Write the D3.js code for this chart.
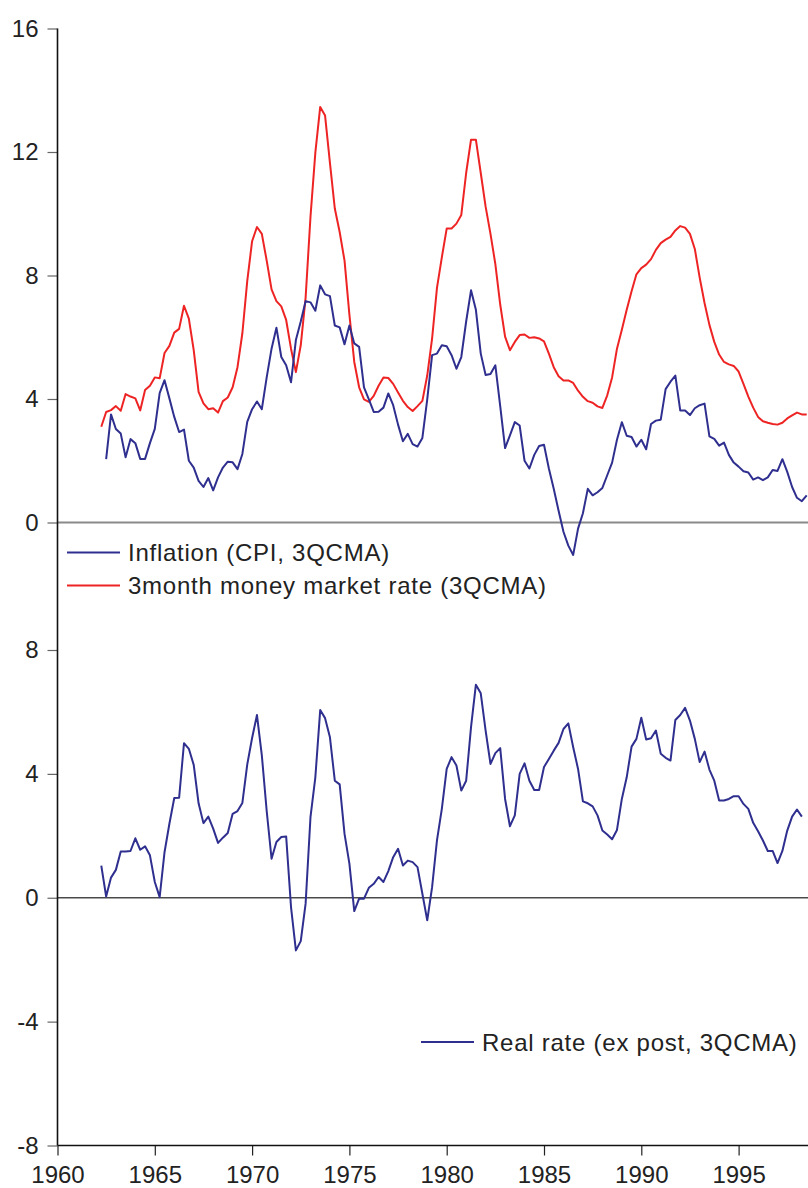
<!DOCTYPE html>
<html>
<head>
<meta charset="utf-8">
<script src="https://cdn.jsdelivr.net/npm/d3@7"></script>
<style>
  html, body { margin: 0; padding: 0; background: #fff; }
  svg { display: block; }
  text { font-family: "Liberation Sans", Arial, Helvetica, sans-serif; fill: #222; }
</style>
</head>
<body>
<svg id="chart" width="808" height="1188"></svg>
<script>
// Quarterly series, first observation dates (decimal years)
const rateStart = 1962.25;
const inflationStart = 1962.5;
const realStart = 1962.25;

// 3-month money market rate, 3-quarter centred moving average (%)
const moneyRate = [
  3.10, 3.58, 3.64, 3.77, 3.62, 4.16, 4.08, 4.02, 3.63, 4.29,
  4.43, 4.70, 4.67, 5.49, 5.72, 6.15, 6.27, 7.02, 6.60, 5.58,
  4.23, 3.86, 3.67, 3.70, 3.56, 3.93, 4.05, 4.38, 5.03, 6.13,
  7.82, 9.11, 9.57, 9.35, 8.48, 7.55, 7.17, 7.00, 6.56, 5.63,
  4.87, 5.74, 7.28, 9.90, 11.98, 13.46, 13.18, 11.65, 10.17, 9.41,
  8.48, 6.73, 5.20, 4.38, 3.99, 3.91, 4.10, 4.43, 4.70, 4.68,
  4.49, 4.21, 3.94, 3.74, 3.61, 3.77, 3.94, 4.76, 5.96, 7.60,
  8.59, 9.52, 9.52, 9.68, 9.96, 11.32, 12.40, 12.40, 11.32, 10.23,
  9.35, 8.37, 7.06, 6.02, 5.58, 5.85, 6.07, 6.09, 5.98, 6.00,
  5.96, 5.87, 5.47, 5.03, 4.74, 4.60, 4.60, 4.52, 4.27, 4.07,
  3.93, 3.88, 3.76, 3.71, 4.12, 4.70, 5.63, 6.24, 6.89, 7.49,
  8.04, 8.24, 8.35, 8.53, 8.83, 9.05, 9.16, 9.25, 9.46, 9.60,
  9.55, 9.35, 8.86, 7.93, 7.11, 6.40, 5.85, 5.44, 5.20, 5.12,
  5.07, 4.89, 4.49, 4.08, 3.72, 3.42, 3.28, 3.23, 3.19, 3.17,
  3.23, 3.37, 3.47, 3.56, 3.50, 3.50
];

// CPI inflation, 3-quarter centred moving average (%)
const inflation = [
  2.05, 3.50, 3.03, 2.88, 2.11, 2.70, 2.57, 2.06, 2.06, 2.57,
  3.03, 4.19, 4.61, 4.02, 3.42, 2.93, 3.01, 2.00, 1.78, 1.35,
  1.15, 1.44, 1.04, 1.46, 1.78, 1.97, 1.95, 1.73, 2.22, 3.26,
  3.67, 3.92, 3.67, 4.70, 5.63, 6.31, 5.36, 5.09, 4.54, 5.91,
  6.51, 7.17, 7.13, 6.86, 7.68, 7.39, 7.33, 6.38, 6.32, 5.77,
  6.38, 5.80, 5.69, 4.38, 3.99, 3.58, 3.59, 3.72, 4.18, 3.80,
  3.17, 2.63, 2.87, 2.54, 2.46, 2.74, 3.99, 5.42, 5.47, 5.74,
  5.71, 5.42, 4.98, 5.36, 6.51, 7.52, 6.89, 5.47, 4.78, 4.81,
  5.09, 3.77, 2.41, 2.82, 3.25, 3.14, 2.00, 1.75, 2.19, 2.48,
  2.52, 1.75, 1.09, 0.38, -0.30, -0.75, -1.05, -0.20, 0.30, 1.09,
  0.88, 0.98, 1.12, 1.53, 1.94, 2.68, 3.25, 2.81, 2.77, 2.46,
  2.68, 2.37, 3.19, 3.30, 3.33, 4.32, 4.56, 4.76, 3.63, 3.63,
  3.48, 3.70, 3.80, 3.85, 2.79, 2.71, 2.49, 2.59, 2.19, 1.94,
  1.81, 1.66, 1.62, 1.39, 1.46, 1.37, 1.46, 1.70, 1.67, 2.05,
  1.64, 1.15, 0.80, 0.69, 0.88
];

// Ex post real rate, 3-quarter centred moving average (%)
const realRate = [
  1.04, 0.04, 0.65, 0.90, 1.49, 1.49, 1.51, 1.92, 1.55, 1.66,
  1.37, 0.51, 0.02, 1.47, 2.39, 3.22, 3.23, 4.99, 4.81, 4.29,
  3.05, 2.41, 2.62, 2.23, 1.77, 1.94, 2.09, 2.71, 2.80, 3.06,
  4.30, 5.16, 5.90, 4.60, 2.80, 1.26, 1.80, 1.96, 1.98, -0.30,
  -1.70, -1.40, -0.19, 2.60, 3.89, 6.06, 5.80, 5.18, 3.78, 3.66,
  2.06, 1.10, -0.43, -0.03, -0.03, 0.32, 0.45, 0.67, 0.51, 0.86,
  1.31, 1.58, 1.04, 1.20, 1.15, 0.99, 0.13, -0.73, 0.34, 1.85,
  2.87, 4.16, 4.54, 4.27, 3.46, 3.78, 5.51, 6.88, 6.60, 5.40,
  4.32, 4.67, 4.83, 3.19, 2.31, 2.66, 4.00, 4.34, 3.78, 3.48,
  3.48, 4.22, 4.48, 4.75, 5.00, 5.45, 5.63, 4.86, 4.16, 3.11,
  3.05, 2.95, 2.66, 2.17, 2.04, 1.89, 2.19, 3.19, 3.89, 4.88,
  5.13, 5.81, 5.11, 5.15, 5.40, 4.65, 4.52, 4.43, 5.74, 5.90,
  6.13, 5.72, 5.13, 4.38, 4.72, 4.14, 3.78, 3.14, 3.14, 3.19,
  3.28, 3.28, 3.03, 2.87, 2.42, 2.15, 1.85, 1.51, 1.51, 1.12,
  1.51, 2.17, 2.62, 2.85, 2.62
];

const topTicks = [0, 4, 8, 12, 16];
const bottomTicks = [-8, -4, 0, 4, 8];
const yearTicks = [1960, 1965, 1970, 1975, 1980, 1985, 1990, 1995];
const topLegend = ["Inflation (CPI, 3QCMA)", "3month money market rate (3QCMA)"];
const bottomLegend = ["Real rate (ex post, 3QCMA)"];

const BLUE = "#2f2f8f";
const RED = "#ee2424";

const W = 808, H = 1188;
const svg = d3.select("#chart");

const x = d3.scaleLinear().domain([1960, 1995]).range([57.5, 738.6]);
const yTop = d3.scaleLinear().domain([0, 16]).range([522.5, 28.5]);
const yBot = d3.scaleLinear().domain([-8, 8]).range([1145.5, 650]);

const toPoints = (start, values) => values.map((v, i) => ({ t: start + i * 0.25, v }));
const plainNumber = d => String(d);   // ASCII hyphen for negatives

// zero reference lines
svg.append("line")
  .attr("x1", x(1960)).attr("x2", W)
  .attr("y1", yTop(0)).attr("y2", yTop(0))
  .attr("stroke", "#8a8a8a").attr("stroke-width", 2);
svg.append("line")
  .attr("x1", x(1960)).attr("x2", W)
  .attr("y1", yBot(0)).attr("y2", yBot(0))
  .attr("stroke", "#4a4a4a").attr("stroke-width", 1.3);

// left axes (ticks and labels only; the spine is drawn once for both panels)
function styleAxis(g) {
  g.select(".domain").remove();
  g.selectAll(".tick line").attr("stroke", "#666").attr("stroke-width", 1.2);
  g.selectAll(".tick text").attr("font-size", 24).attr("fill", "#222")
    .attr("font-family", '"Liberation Sans", Arial, sans-serif');
}
svg.append("g").attr("transform", `translate(${x(1960)},0)`)
  .call(d3.axisLeft(yTop).tickValues(topTicks).tickSize(10).tickPadding(9).tickFormat(plainNumber))
  .call(styleAxis);
svg.append("g").attr("transform", `translate(${x(1960)},0)`)
  .call(d3.axisLeft(yBot).tickValues(bottomTicks).tickSize(10).tickPadding(9).tickFormat(plainNumber))
  .call(styleAxis);

// bottom time axis
const xAxisG = svg.append("g").attr("transform", `translate(0,${yBot(-8)})`)
  .call(d3.axisBottom(x).tickValues(yearTicks).tickSize(10).tickPadding(10).tickFormat(plainNumber));
xAxisG.select(".domain").remove();
xAxisG.selectAll(".tick line").attr("stroke", "#222").attr("stroke-width", 1.2);
xAxisG.selectAll(".tick text").attr("font-size", 24).attr("fill", "#222")
  .attr("font-family", '"Liberation Sans", Arial, sans-serif');

// axis spines
svg.append("line")
  .attr("x1", x(1960)).attr("x2", x(1960))
  .attr("y1", yTop(16)).attr("y2", yBot(-8))
  .attr("stroke", "#111").attr("stroke-width", 1.6);
svg.append("line")
  .attr("x1", x(1960)).attr("x2", W)
  .attr("y1", yBot(-8)).attr("y2", yBot(-8))
  .attr("stroke", "#111").attr("stroke-width", 1.6);

// series
const lineTop = d3.line().x(d => x(d.t)).y(d => yTop(d.v));
const lineBot = d3.line().x(d => x(d.t)).y(d => yBot(d.v));

svg.append("path").datum(toPoints(rateStart, moneyRate))
  .attr("d", lineTop).attr("fill", "none")
  .attr("stroke", RED).attr("stroke-width", 2).attr("stroke-linejoin", "round");
svg.append("path").datum(toPoints(inflationStart, inflation))
  .attr("d", lineTop).attr("fill", "none")
  .attr("stroke", BLUE).attr("stroke-width", 2).attr("stroke-linejoin", "round");
svg.append("path").datum(toPoints(realStart, realRate))
  .attr("d", lineBot).attr("fill", "none")
  .attr("stroke", BLUE).attr("stroke-width", 2).attr("stroke-linejoin", "round");

// legends
function legendRow(g, lx, ly, color, label) {
  g.append("line").attr("x1", lx).attr("x2", lx + 53).attr("y1", ly).attr("y2", ly)
    .attr("stroke", color).attr("stroke-width", 2);
  g.append("text").attr("x", lx + 61).attr("y", ly).attr("dy", "0.36em")
    .attr("font-size", 24).attr("letter-spacing", 0.75).text(label);
}
const lg = svg.append("g");
legendRow(lg, 67, 552.5, BLUE, topLegend[0]);
legendRow(lg, 67, 585.5, RED, topLegend[1]);
legendRow(lg, 421, 1042, BLUE, bottomLegend[0]);
</script>
</body>
</html>
